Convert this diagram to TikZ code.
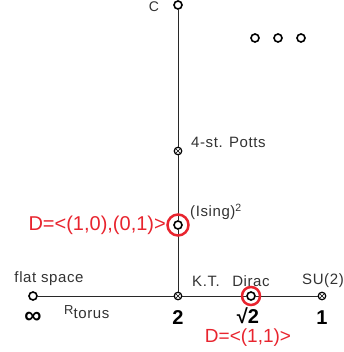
\documentclass[tikz,border=0pt]{standalone}
\usepackage{fontspec}
\setmainfont{Liberation Sans}
\definecolor{ink}{RGB}{40,40,40}
\definecolor{lbl}{RGB}{50,50,50}
\definecolor{rd}{RGB}{232,36,46}
\begin{document}
\begin{tikzpicture}[x=1pt,y=-1pt,
  opennode/.style={circle,draw=black,line width=1.6pt,fill=white,inner sep=0pt,minimum size=8pt},
  crossnode/.style={circle,draw=black,line width=1.2pt,fill=white,inner sep=0pt,minimum size=7.5pt,
    path picture={\draw[line width=0.6pt] (path picture bounding box.south west)--(path picture bounding box.north east)
      (path picture bounding box.north west)--(path picture bounding box.south east);}},
  edge/.style={draw=ink,line width=1pt},
  redring/.style={circle,draw=rd,line width=2.5pt,inner sep=0pt},
  txt/.style={text=lbl,font=\fontsize{15}{17}\selectfont\addfontfeatures{LetterSpace=4},inner sep=0pt},
  num/.style={text=black,font=\fontsize{20}{22}\selectfont\bfseries,inner sep=0pt},
  redtxt/.style={text=rd,font=\fontsize{20}{22}\selectfont,inner sep=0pt}]
\useasboundingbox (0,0) rectangle (344,352);
% nodes
\node[opennode] (flat) at (33,296) {};
\node[crossnode] (two) at (178,296) {};
\node[opennode] (dirac) at (251,296) {};
\node[crossnode] (su) at (322,296) {};
\node[crossnode] (potts) at (178,151) {};
\node[opennode] (ising) at (178,225) {};
\node[opennode] (top) at (178,5) {};
% connectors
\draw[edge] (top) -- (potts);
\draw[edge] (potts) -- (ising);
\draw[edge] (ising) -- (two);
\draw[edge] (flat) -- (two);
\draw[edge] (two) -- (dirac);
\draw[edge] (dirac) -- (su);
% red rings
\node[redring,minimum size=21pt] (ringI) at (178,225) {};
\node[redring,minimum size=18pt] (ringD) at (251,296) {};
% dots
\node[opennode] (d1) at (255,38) {};
\node[opennode] (d2) at (278,38) {};
\node[opennode] (d3) at (301,38) {};
% labels
\node[txt,font=\fontsize{14}{16}\selectfont] (lc) at (154,7) {C};
\node[txt,anchor=west] (lpotts) at (191,142) {4-st. Potts};
\node[txt,anchor=west] (lising) at (190,212) {(Ising)\textsuperscript{2}};
\node[redtxt,anchor=east] (lD1) at (166,225) {D=<(1,0),(0,1)>};
\node[txt] (lflat) at (49,279) {flat space};
\node[num,font=\fontsize{24}{26}\selectfont\bfseries] (linf) at (33,318) {∞};
\node[txt,anchor=west] (lR) at (64,312) {{\fontsize{13}{15}\selectfont R}\raisebox{-4pt}{torus}};
\node[num] (l2) at (178,318) {2};
\node[txt,anchor=west] (lkt) at (192,281) {K.T.};
\node[txt] (ldirac) at (251,281) {Dirac};
\node[txt] (lsu) at (323,281) {SU(2)};
\node[num] (lsq) at (248,316) {√2};
\node[num] (l1) at (322,318) {1};
\node[redtxt,font=\fontsize{19}{21}\selectfont] (lD2) at (248,338) {D=<(1,1)>};
\end{tikzpicture}
\end{document}
